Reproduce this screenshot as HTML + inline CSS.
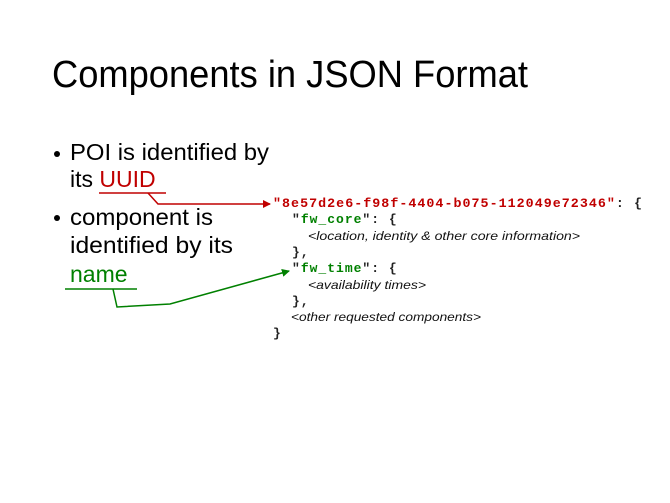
<!DOCTYPE html>
<html><head><meta charset="utf-8"><style>
html,body{margin:0;padding:0;background:#fff;}
svg{display:block;}
.t{font-family:"Liberation Sans",sans-serif;fill:#000;}
.m{font-family:"Liberation Mono",monospace;font-weight:bold;font-size:13px;letter-spacing:1px;fill:#222;}
.i{font-family:"Liberation Sans",sans-serif;font-style:italic;font-size:12px;fill:#111;}
</style></head><body>
<svg width="670" height="503" viewBox="0 0 670 503" xmlns="http://www.w3.org/2000/svg">
<defs>
<marker id="ar" markerWidth="8" markerHeight="8" refX="7" refY="4" orient="auto" markerUnits="userSpaceOnUse"><path d="M0,0 L8,4 L0,8 z" fill="#c00000"/></marker>
<marker id="ag" markerWidth="8" markerHeight="8" refX="7" refY="4" orient="auto" markerUnits="userSpaceOnUse"><path d="M0,0 L8,4 L0,8 z" fill="#008000"/></marker>
</defs>
<text class="t" x="52" y="87" font-size="38" textLength="476" lengthAdjust="spacingAndGlyphs">Components in JSON Format</text>

<circle cx="57" cy="154" r="3" fill="#000"/>
<text class="t" x="70" y="160" font-size="23" textLength="199" lengthAdjust="spacingAndGlyphs">POI is identified by</text>
<text class="t" x="70" y="187" font-size="23"><tspan>its </tspan><tspan fill="#c00000">UUID</tspan></text>
<circle cx="57" cy="218" r="3" fill="#000"/>
<text class="t" x="70" y="225" font-size="23" textLength="143" lengthAdjust="spacingAndGlyphs">component is</text>
<text class="t" x="70" y="253" font-size="23" textLength="163" lengthAdjust="spacingAndGlyphs">identified by its</text>
<text class="t" x="70" y="282" font-size="23" style="fill:#008000">name</text>

<line x1="99" y1="193" x2="166" y2="193" stroke="#c00000" stroke-width="1.5"/>
<polyline points="148,193 158,204 270,204" fill="none" stroke="#c00000" stroke-width="1.5" marker-end="url(#ar)"/>
<line x1="65" y1="289" x2="137" y2="289" stroke="#008000" stroke-width="1.5"/>
<polyline points="113,289 117,307 170,304 289,271" fill="none" stroke="#008000" stroke-width="1.5" marker-end="url(#ag)"/>

<text class="m" x="273" y="207" textLength="370" lengthAdjust="spacingAndGlyphs"><tspan fill="#c00000">"8e57d2e6-f98f-4404-b075-112049e72346"</tspan>: {</text>
<text class="m" x="292" y="223">"<tspan fill="#008000">fw_core</tspan>": {</text>
<text class="i" x="308" y="240" textLength="272" lengthAdjust="spacingAndGlyphs">&lt;location, identity &amp; other core information&gt;</text>
<text class="m" x="292" y="256">},</text>
<text class="m" x="292" y="272">"<tspan fill="#008000">fw_time</tspan>": {</text>
<text class="i" x="308" y="289" textLength="118" lengthAdjust="spacingAndGlyphs">&lt;availability times&gt;</text>
<text class="m" x="292" y="305">},</text>
<text class="i" x="291" y="321" textLength="190" lengthAdjust="spacingAndGlyphs">&lt;other requested components&gt;</text>
<text class="m" x="273" y="337">}</text>
</svg>
</body></html>
